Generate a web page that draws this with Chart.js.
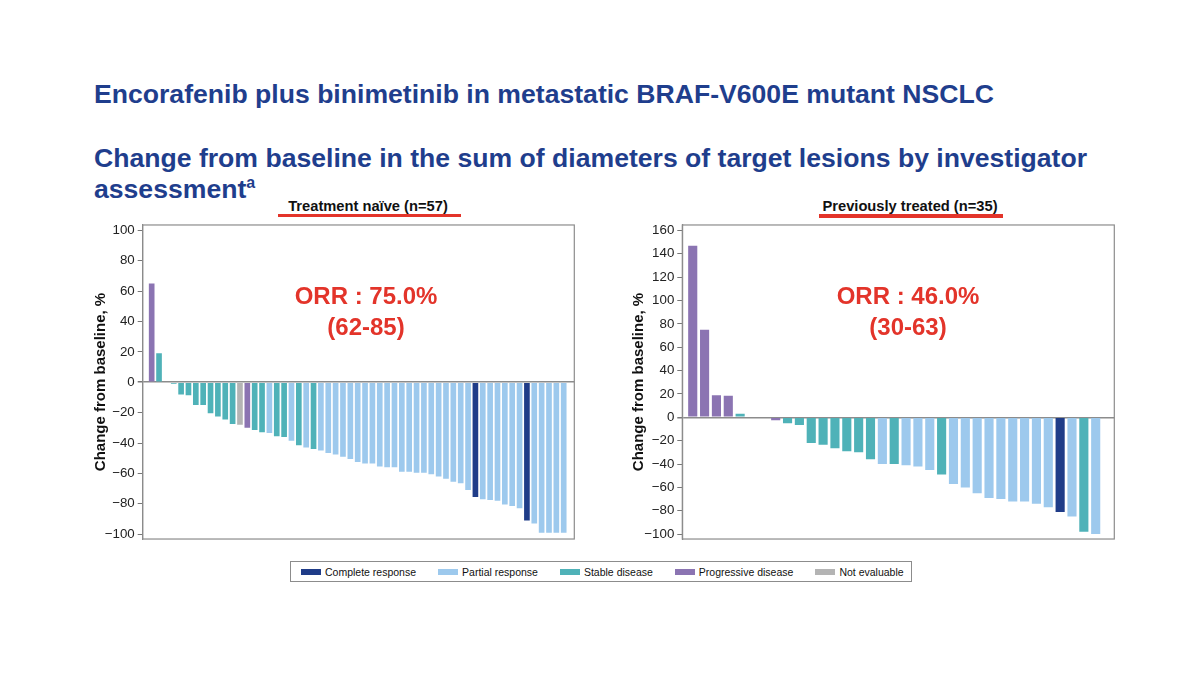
<!DOCTYPE html>
<html>
<head>
<meta charset="utf-8">
<script src="https://cdn.jsdelivr.net/npm/chart.js@4.4.1/dist/chart.umd.min.js"></script>
<style>
  html, body { margin: 0; padding: 0; background: #fff; }
  body { font-family: "Liberation Sans", Arial, sans-serif; }
  #page { position: relative; width: 1200px; height: 675px; overflow: hidden; background: #fff; }
  .title { position: absolute; left: 94px; color: #1f3e8d; font-weight: bold; font-size: 26.6px; line-height: 31px; white-space: nowrap; }
  .title sup { font-size: 16px; vertical-align: 10px; line-height: 0; }
  .sub { position: absolute; top: 198px; font-size: 14.7px; font-weight: bold; color: #111; white-space: nowrap; transform: translateX(-50%); }
  .redline { position: absolute; height: 3.5px; background: #e3342a; }
  .orr { position: absolute; transform: translateX(-50%); color: #e3342a; font-weight: bold; font-size: 24px; line-height: 31px; text-align: center; white-space: nowrap; }
  .box { position: absolute; width: 500px; height: 336px; top: 214px; }
  #legend { position: absolute; left: 290px; top: 561px; width: 622px; height: 21px; border: 1px solid #8c8c8c; box-sizing: border-box;
            display: flex; align-items: center; gap: 22px; padding-left: 10px; font-size: 10.5px; color: #111; }
  #legend .item { display: flex; align-items: center; white-space: nowrap; }
  #legend .sw { width: 20px; height: 6px; margin-right: 4px; }
</style>
</head>
<body>
<div id="page">
  <div class="title" style="top:79px">Encorafenib plus binimetinib in metastatic BRAF-V600E mutant NSCLC</div>
  <div class="title" style="top:143px">Change from baseline in the sum of diameters of target lesions by investigator<br>assessment<sup>a</sup></div>

  <div class="sub" style="left:368px">Treatment naïve (n=57)</div>
  <div class="redline" style="left:278px; width:183px; top:213.5px"></div>
  <div class="sub" style="left:910px">Previously treated (n=35)</div>
  <div class="redline" style="left:819px; width:184px; top:214px"></div>

  <div class="box" style="left:80px"><canvas id="naiveChart"></canvas></div>
  <div class="box" style="left:620px"><canvas id="treatedChart"></canvas></div>

  <div class="orr" style="left:366px; top:280px">ORR : 75.0%<br>(62-85)</div>
  <div class="orr" style="left:908px; top:280px">ORR : 46.0%<br>(30-63)</div>

  <div id="legend"></div>
</div>

<script>
  // best % change from baseline, ordered as in the waterfall
  const naiveValues = [65, 19, 0, -1, -8, -8.5, -15, -15, -20.5, -22.5, -24.5, -27.5, -28, -30, -31.5, -33,
    -33.5, -35.5, -36, -38.5, -41.5, -43, -44, -45, -46.5, -47.5, -49, -50.5, -52.5, -53.5, -53.5, -55.5,
    -56, -56, -59, -59, -59.5, -59.5, -60.5, -62, -63.5, -65.5, -66.5, -71, -75.5, -77, -77.5, -78,
    -80.5, -81.5, -83, -91, -93, -99, -99, -99, -99];
  const naiveResponse = ["PD", "SD", "SD", "SD", "SD", "SD", "SD", "SD", "SD", "SD", "SD", "SD", "NE", "PD", "SD", "SD",
    "PR", "SD", "SD", "PR", "SD", "PR", "SD", "PR", "PR", "PR", "PR", "PR", "PR", "PR", "PR", "PR",
    "PR", "PR", "PR", "PR", "PR", "PR", "PR", "PR", "PR", "PR", "PR", "PR", "CR", "PR", "PR", "PR",
    "PR", "PR", "PR", "CR", "PR", "PR", "PR", "PR", "PR"];

  const treatedValues = [147, 75, 19, 18.5, 3, 0, -0.6, -2.5, -5, -6.5, -22, -23.5, -26.5, -29, -30, -36,
    -40, -40, -41, -42, -45, -49, -57, -60, -65, -69, -70, -72, -72, -74, -77, -81, -85, -98, -100];
  const treatedResponse = ["PD", "PD", "PD", "PD", "SD", "SD", "PD", "PD", "SD", "SD", "SD", "SD", "SD", "SD", "SD", "SD",
    "PR", "SD", "PR", "PR", "PR", "SD", "PR", "PR", "PR", "PR", "PR", "PR", "PR", "PR", "PR", "CR",
    "PR", "SD", "PR"];

  const naiveTicks = [-100, -80, -60, -40, -20, 0, 20, 40, 60, 80, 100];
  const treatedTicks = [-100, -80, -60, -40, -20, 0, 20, 40, 60, 80, 100, 120, 140, 160];

  const legendCodes = ["CR", "PR", "SD", "PD", "NE"];
  const legendLabels = ["Complete response", "Partial response", "Stable disease", "Progressive disease", "Not evaluable"];

  const responseColors = {
    CR: "#1f3c88",
    PR: "#9dc9ed",
    SD: "#4fb2b8",
    PD: "#8b74b2",
    NE: "#b4b4b4"
  };

  Chart.defaults.font.family = '"Liberation Sans", Arial, sans-serif';
  Chart.defaults.color = "#222";

  const framePlugin = {
    id: "frame",
    afterDatasetsDraw(chart) {
      const a = chart.chartArea;
      const ctx = chart.ctx;
      ctx.save();
      ctx.strokeStyle = "#8c8c8c";
      ctx.lineWidth = 1.2;
      ctx.strokeRect(a.left, a.top, a.right - a.left, a.bottom - a.top);
      ctx.restore();
    }
  };

  function minusLabel(value) {
    return value < 0 ? "\u2212" + Math.abs(value) : String(value);
  }

  function waterfall(canvasId, values, responses, ticks, opts) {
    const points = values.map((value, index) => ({ x: index + 1, y: value }));
    return new Chart(document.getElementById(canvasId), {
      type: "bar",
      data: {
        datasets: [{
          data: points,
          backgroundColor: responses.map((code) => responseColors[code]),
          borderWidth: 0,
          barPercentage: 0.77,
          categoryPercentage: 1
        }]
      },
      plugins: [framePlugin],
      options: {
        responsive: true,
        maintainAspectRatio: false,
        animation: false,
        layout: { padding: opts.padding },
        plugins: { legend: { display: false }, tooltip: { enabled: false } },
        scales: {
          x: {
            type: "linear",
            display: false,
            offset: false,
            grid: { offset: false },
            min: opts.xMin,
            max: opts.xMax
          },
          y: {
            min: opts.yMin,
            max: opts.yMax,
            afterBuildTicks: (scale) => {
              scale.ticks = ticks.map((value) => ({ value }));
            },
            afterFit: (scale) => {
              scale.width = opts.axisWidth;
            },
            ticks: {
              font: { size: 13.3 },
              color: "#222",
              padding: 3,
              callback: (value) => minusLabel(value)
            },
            grid: {
              drawOnChartArea: true,
              color: (ctx) => (ctx.tick && ctx.tick.value === 0 ? "#8c8c8c" : "rgba(0,0,0,0)"),
              lineWidth: (ctx) => (ctx.tick && ctx.tick.value === 0 ? 1.5 : 1),
              tickColor: "#777",
              tickLength: 5
            },
            border: { display: true, color: "#8c8c8c", width: 1.2 },
            title: {
              display: true,
              text: "Change from baseline, %",
              font: { size: 15, weight: "bold" },
              color: "#111",
              padding: { top: opts.titlePad, bottom: 0 }
            }
          }
        }
      }
    });
  }

  function buildLegend() {
    const legend = document.getElementById("legend");
    legend.innerHTML = legendCodes.map((code, i) =>
      `<div class="item"><span class="sw" style="background:${responseColors[code]}"></span>${legendLabels[i]}</div>`
    ).join("");
  }

  buildLegend();

  waterfall("naiveChart", naiveValues, naiveResponse, naiveTicks, {
    xMin: -0.22, xMax: 58.44, yMin: -103.2, yMax: 103.5,
    axisWidth: 62.7, titlePad: 12,
    padding: { top: 8.3, bottom: 6.7, right: 5.7, left: 0 }
  });

  waterfall("treatedChart", treatedValues, treatedResponse, treatedTicks, {
    xMin: 0.12, xMax: 36.57, yMin: -104.2, yMax: 164.7,
    axisWidth: 62.3, titlePad: 10.1,
    padding: { top: 7.7, bottom: 7.3, right: 5.7, left: 0 }
  });
</script>
</body>
</html>
